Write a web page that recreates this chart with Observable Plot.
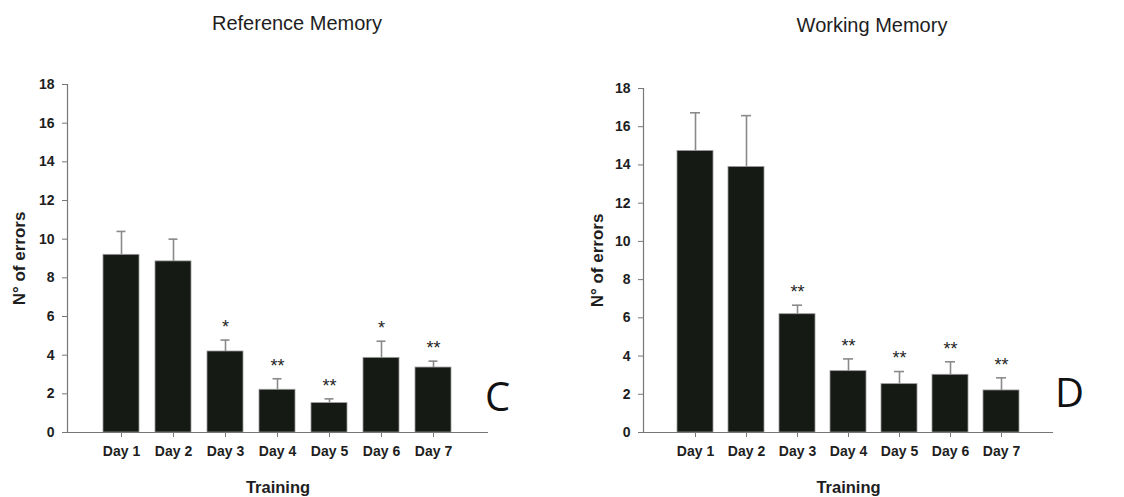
<!DOCTYPE html>
<html>
<head>
<meta charset="utf-8">
<script src="https://cdn.jsdelivr.net/npm/d3@7"></script>
<script src="https://cdn.jsdelivr.net/npm/@observablehq/plot@0.6"></script>
<style>
  body { margin: 0; background: #fff; }
  #wrap { position: relative; width: 1124px; height: 497px; overflow: hidden; font-family: "Liberation Sans", Arial, sans-serif; }
  .panel { position: absolute; top: 0; }
  .title { position: absolute; font-size: 20px; line-height: 20px; color: #1e1e1e; white-space: nowrap; transform: translateX(-50%); }
  .letter { position: absolute; font-family: "Open Sans", sans-serif; font-size: 40px; line-height: 40px; color: #111; }
</style>
</head>
<body>
<div id="wrap">
  <div class="title" style="left:297px; top:13px;">Reference Memory</div>
  <div class="title" style="left:872px; top:15px;">Working Memory</div>
  <div class="panel" id="left" style="left:0px;"></div>
  <div class="panel" id="right" style="left:560px;"></div>
  <div class="letter" style="left:485px; top:376px;">C</div>
  <div class="letter" style="left:1055px; top:372px;">D</div>
</div>
<script>
const days = ["Day 1", "Day 2", "Day 3", "Day 4", "Day 5", "Day 6", "Day 7"];
const yTicks = [0, 2, 4, 6, 8, 10, 12, 14, 16, 18];

// Reference memory (panel C)
const refMean = [9.19, 8.85, 4.19, 2.21, 1.52, 3.86, 3.36];
const refSem  = [1.21, 1.15, 0.59, 0.57, 0.22, 0.86, 0.33];
const refSig  = ["", "", "*", "**", "**", "*", "**"];

// Working memory (panel D)
const wmMean = [14.73, 13.89, 6.19, 3.21, 2.53, 3.02, 2.20];
const wmSem  = [2.00, 2.69, 0.47, 0.64, 0.66, 0.68, 0.66];
const wmSig  = ["", "", "**", "**", "**", "**", "**"];

const yLabel = "N\u00b0 of errors";
const xLabel = "Training";

function panel(means, sems, sigs, opts) {
  const data = days.map((d, i) => ({day: d, mean: means[i], top: means[i] + sems[i], sig: sigs[i]}));
  const axisColor = "#777";
  return Plot.plot({
    width: opts.width,
    height: 497,
    marginLeft: opts.marginLeft,
    marginRight: opts.marginRight,
    marginTop: opts.marginTop,
    marginBottom: opts.marginBottom,
    style: {fontFamily: "'Liberation Sans', Arial, sans-serif", background: "transparent", color: "#1e1e1e"},
    x: {domain: days, paddingInner: 0.3, paddingOuter: 0.65},
    y: {domain: [0, 18]},
    marks: [
      Plot.barY(data, {x: "day", y: "mean", fill: "#151a14", stroke: "#9a9a9a", strokeWidth: 0.8}),
      Plot.ruleX(data, {x: "day", y1: "mean", y2: "top", stroke: "#8a8a8a", strokeWidth: 1.6}),
      Plot.tickY(data, {x: "day", y: "top", stroke: "#8a8a8a", strokeWidth: 1.6, insetLeft: opts.capInset, insetRight: opts.capInset}),
      Plot.text(data, {x: "day", y: "top", text: "sig", dy: -13, fontSize: 18, fill: "#1e1e1e"}),
      Plot.frame({anchor: "left", stroke: axisColor, strokeWidth: 1.2}),
      Plot.ruleY([0], {stroke: axisColor, strokeWidth: 1.2, insetLeft: -5}),
      Plot.axisY({ticks: yTicks, tickSize: 5, tickPadding: 8, fontSize: 14, fontWeight: "bold", stroke: axisColor, fill: "#1e1e1e", label: null}),
      Plot.axisX({tickSize: 5, tickPadding: 9, fontSize: 14, fontWeight: "bold", stroke: axisColor, fill: "#1e1e1e", label: null}),
      Plot.text([yLabel], {frameAnchor: "left", dx: -opts.yLabelOffset, rotate: -90, textAnchor: "middle", lineAnchor: "middle", fontSize: 17, fontWeight: "bold", fill: "#1e1e1e"}),
      Plot.text([xLabel], {frameAnchor: "bottom", dy: 55, textAnchor: "middle", lineAnchor: "middle", fontSize: 16.5, fontWeight: "bold", fill: "#1e1e1e"})
    ]
  });
}

document.getElementById("left").append(panel(refMean, refSem, refSig, {
  width: 560, marginLeft: 67, marginRight: 72, marginTop: 84, marginBottom: 65, capInset: 13.5, yLabelOffset: 48
}));
document.getElementById("right").append(panel(wmMean, wmSem, wmSig, {
  width: 564, marginLeft: 83, marginRight: 71, marginTop: 88, marginBottom: 65, capInset: 13, yLabelOffset: 46
}));
</script>
</body>
</html>
